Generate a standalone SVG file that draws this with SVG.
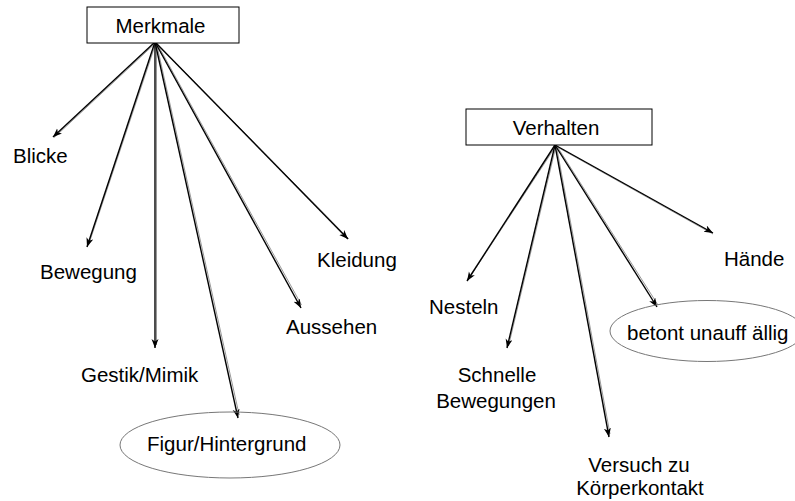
<svg xmlns="http://www.w3.org/2000/svg" width="795" height="501" viewBox="0 0 795 501">
<style>
.box{fill:#fff;stroke:#000;stroke-width:1}
.oval{fill:none;stroke:#777;stroke-width:1}
.lbl{font-family:"Liberation Sans",Arial,sans-serif;font-size:20.5px;fill:#000}
.mid{text-anchor:middle}
.ln{stroke:#000;stroke-width:1.4;fill:none;marker-end:url(#ah)}
.sh{stroke:#999;stroke-width:1;fill:none}
</style>
<defs>
<marker id="ah" markerUnits="userSpaceOnUse" markerWidth="10" markerHeight="8" refX="9" refY="3.5" orient="auto">
<path d="M0,0 L9,3.5 L0,7 L2.5,3.5 z" fill="#000"/>
</marker>
</defs>
<g id="connectors">
<g class="shadows">
<line class="sh" x1="156.2" y1="42.5" x2="54.2" y2="137.5"/>
<line class="sh" x1="156.2" y1="42" x2="88.5" y2="245"/>
<line class="sh" x1="156.5" y1="42" x2="156.5" y2="345"/>
<line class="sh" x1="156.2" y1="42" x2="239.2" y2="415"/>
<line class="sh" x1="156.2" y1="42" x2="301.5" y2="305"/>
<line class="sh" x1="156" y1="42.8" x2="348.5" y2="238.5"/>
<line class="sh" x1="556.2" y1="145.5" x2="468" y2="280"/>
<line class="sh" x1="556.2" y1="145" x2="508.5" y2="346"/>
<line class="sh" x1="556.2" y1="145" x2="610" y2="434"/>
<line class="sh" x1="556.2" y1="145" x2="658" y2="305"/>
<line class="sh" x1="551" y1="143.5" x2="713" y2="234"/>
</g>
<line class="ln" x1="155" y1="42" x2="53" y2="137"/>
<line class="ln" x1="155" y1="42" x2="87" y2="247"/>
<line class="ln" x1="155" y1="42" x2="155" y2="348"/>
<line class="ln" x1="155" y1="42" x2="238" y2="418"/>
<line class="ln" x1="155" y1="42" x2="301" y2="308"/>
<line class="ln" x1="155" y1="42" x2="348" y2="239"/>
<line class="ln" x1="555" y1="145" x2="467" y2="281"/>
<line class="ln" x1="555" y1="145" x2="507" y2="348"/>
<line class="ln" x1="555" y1="145" x2="609" y2="437"/>
<line class="ln" x1="555" y1="145" x2="657" y2="307"/>
<line class="ln" x1="555" y1="145" x2="713" y2="233"/>
</g>
<g id="merkmale">
<rect class="box" x="87" y="7" width="152" height="36"/>
<text class="lbl mid" x="160.5" y="33">Merkmale</text>
</g>
<g id="blicke"><text class="lbl" x="13" y="163">Blicke</text></g>
<g id="bewegung"><text class="lbl" x="40" y="279">Bewegung</text></g>
<g id="gestik"><text class="lbl" x="81" y="382">Gestik/Mimik</text></g>
<g id="figur">
<ellipse class="oval" cx="230" cy="445" rx="110" ry="33"/>
<text class="lbl" x="147" y="451">Figur/Hintergrund</text>
</g>
<g id="aussehen"><text class="lbl" x="286" y="334">Aussehen</text></g>
<g id="kleidung"><text class="lbl" x="317" y="267">Kleidung</text></g>
<g id="verhalten">
<rect class="box" x="466" y="109" width="186" height="36"/>
<text class="lbl mid" x="556" y="135">Verhalten</text>
</g>
<g id="nesteln"><text class="lbl" x="429" y="314">Nesteln</text></g>
<g id="schnelle">
<text class="lbl mid" x="497" y="382">Schnelle</text>
<text class="lbl mid" x="496" y="408">Bewegungen</text>
</g>
<g id="versuch">
<text class="lbl mid" x="639" y="472">Versuch zu</text>
<text class="lbl mid" x="640" y="495">Körperkontakt</text>
</g>
<g id="betont">
<ellipse class="oval" cx="707" cy="331" rx="97" ry="30.5"/>
<text class="lbl" x="627" y="340">betont unauff ällig</text>
</g>
<g id="haende"><text class="lbl" x="724" y="266">Hände</text></g>
</svg>
